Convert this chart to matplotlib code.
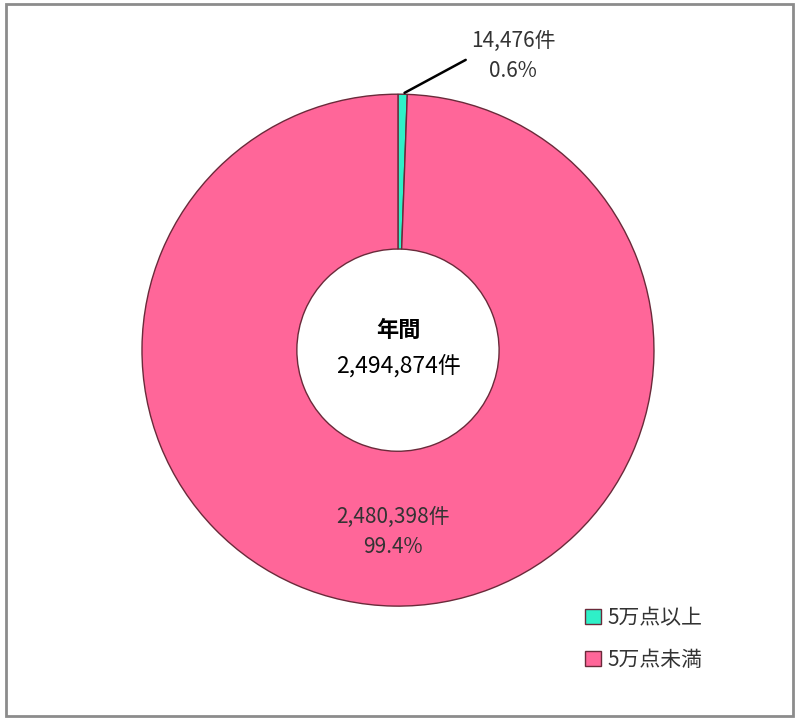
import numpy as np
import matplotlib
matplotlib.use("Agg")
import matplotlib.pyplot as plt
from matplotlib.patches import Rectangle

plt.rcParams['font.family'] = ['Noto Sans CJK JP', 'DejaVu Sans']

#Data
labels = ['5万点以上', '5万点未満']
counts = [14476, 2480398]
shares = [0.6, 99.4]
total = 2494874
colors = ['#2ff0c8', '#ff6699']

#Figure
fig = plt.figure(figsize=(7.95, 7.19), dpi=100)
ax = fig.add_axes([0.1786, 0.157, 0.644, 0.712])

wedges, _ = ax.pie(counts, colors=colors, startangle=90, counterclock=False,
                   wedgeprops=dict(width=0.605, edgecolor='#6a2a3a', linewidth=1.0))
ax.set_xlim(-1, 1)
ax.set_ylim(-1, 1)
ax.set_aspect('auto')

#Center text
ax.text(0, 0.075, '年間', ha='center', va='center', fontsize=16, fontweight='bold')
ax.text(0, -0.06, '{:,}件'.format(total), ha='center', va='center', fontsize=16.5)

#Small slice label with leader line
ax.annotate('{:,}件\n{}%'.format(counts[0], shares[0]),
            xy=(0.016, 1.0), xytext=(0.45, 1.15),
            ha='center', va='center', fontsize=15, color='#333333',
            linespacing=1.5,
            arrowprops=dict(arrowstyle='-', color='black', lw=1.8,
                            relpos=(-0.03, 0.45)))

#Large slice label
ax.text(-0.02, -0.71, '{:,}件\n{}%'.format(counts[1], shares[1]),
        ha='center', va='center', fontsize=15, color='#333333', linespacing=1.5)

#Legend
leg = fig.legend(wedges, labels, loc='upper left', bbox_to_anchor=(0.718, 0.176),
                 frameon=False, fontsize=15, handlelength=0.75, handleheight=0.75,
                 handletextpad=0.3, labelspacing=0.95, labelcolor='#333333',
                 borderpad=0.2)

#Border
fig.patches.append(Rectangle((0.008, 0.004), 0.989, 0.991, transform=fig.transFigure,
                             fill=False, edgecolor='#8c8c8c', linewidth=2))

plt.savefig('out.png', dpi=100)
